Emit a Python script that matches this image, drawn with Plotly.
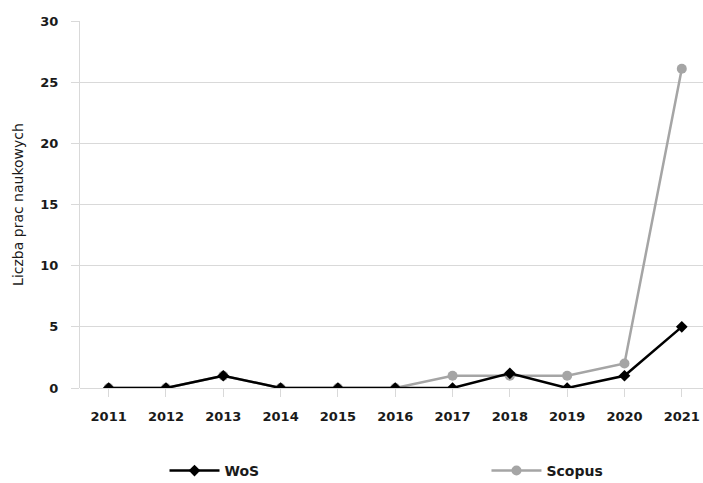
import plotly.graph_objects as go

years = ["2011", "2012", "2013", "2014", "2015", "2016", "2017", "2018", "2019", "2020", "2021"]
wos = [0, 0, 1, 0, 0, 0, 0, 1.2, 0, 1, 5]
scopus = [0, 0, 1, 0, 0, 0, 1, 1, 1, 2, 26.1]
y_ticks = [0, 5, 10, 15, 20, 25, 30]

FONT = "DejaVu Sans"
GRID = "#d9d9d9"
LEG_FONT = dict(family=FONT, size=14, color="#1a1a1a", weight="bold")

fig = go.Figure()
fig.add_trace(go.Scatter(
    x=years, y=scopus, name="Scopus", mode="lines+markers",
    line=dict(color="#a5a5a5", width=2.5),
    marker=dict(symbol="circle", size=10, color="#a5a5a5"),
    legend="legend2",
))
fig.add_trace(go.Scatter(
    x=years, y=wos, name="WoS", mode="lines+markers",
    line=dict(color="#000000", width=2.5),
    marker=dict(symbol="diamond", size=9, color="#000000"),
    legend="legend",
))

fig.update_layout(
    width=703, height=483,
    margin=dict(l=80, r=0, t=21, b=95),
    paper_bgcolor="white", plot_bgcolor="white",
    font=dict(family=FONT, size=12, color="#1a1a1a"),
    showlegend=True,
    legend=dict(orientation="h", xref="container", yref="container",
                x=0.234, xanchor="left", y=0.025, yanchor="middle",
                itemwidth=50, font=LEG_FONT),
    legend2=dict(orientation="h", xref="container", yref="container",
                 x=0.692, xanchor="left", y=0.025, yanchor="middle",
                 itemwidth=50, font=LEG_FONT),
    xaxis=dict(
        type="category", range=[-0.5, 10.37],
        showgrid=False, showline=False, zeroline=False,
        ticks="outside", ticklen=8, tickcolor=GRID, tickwidth=1,
        ticklabelstandoff=8,
        tickfont=dict(family=FONT, size=13, color="#1a1a1a", weight="bold"),
    ),
    yaxis=dict(
        range=[0, 30], tickvals=y_ticks,
        showgrid=True, gridcolor=GRID, gridwidth=1,
        showline=True, linecolor=GRID, linewidth=1,
        zeroline=True, zerolinecolor=GRID, zerolinewidth=1,
        ticks="outside", ticklen=8, tickcolor=GRID, tickwidth=1,
        ticklabelstandoff=10,
        tickfont=dict(family=FONT, size=13, color="#1a1a1a", weight="bold"),
        title=dict(text="Liczba prac naukowych", standoff=13,
                   font=dict(family=FONT, size=14, color="#1a1a1a")),
    ),
)

fig.write_html("out.html")
